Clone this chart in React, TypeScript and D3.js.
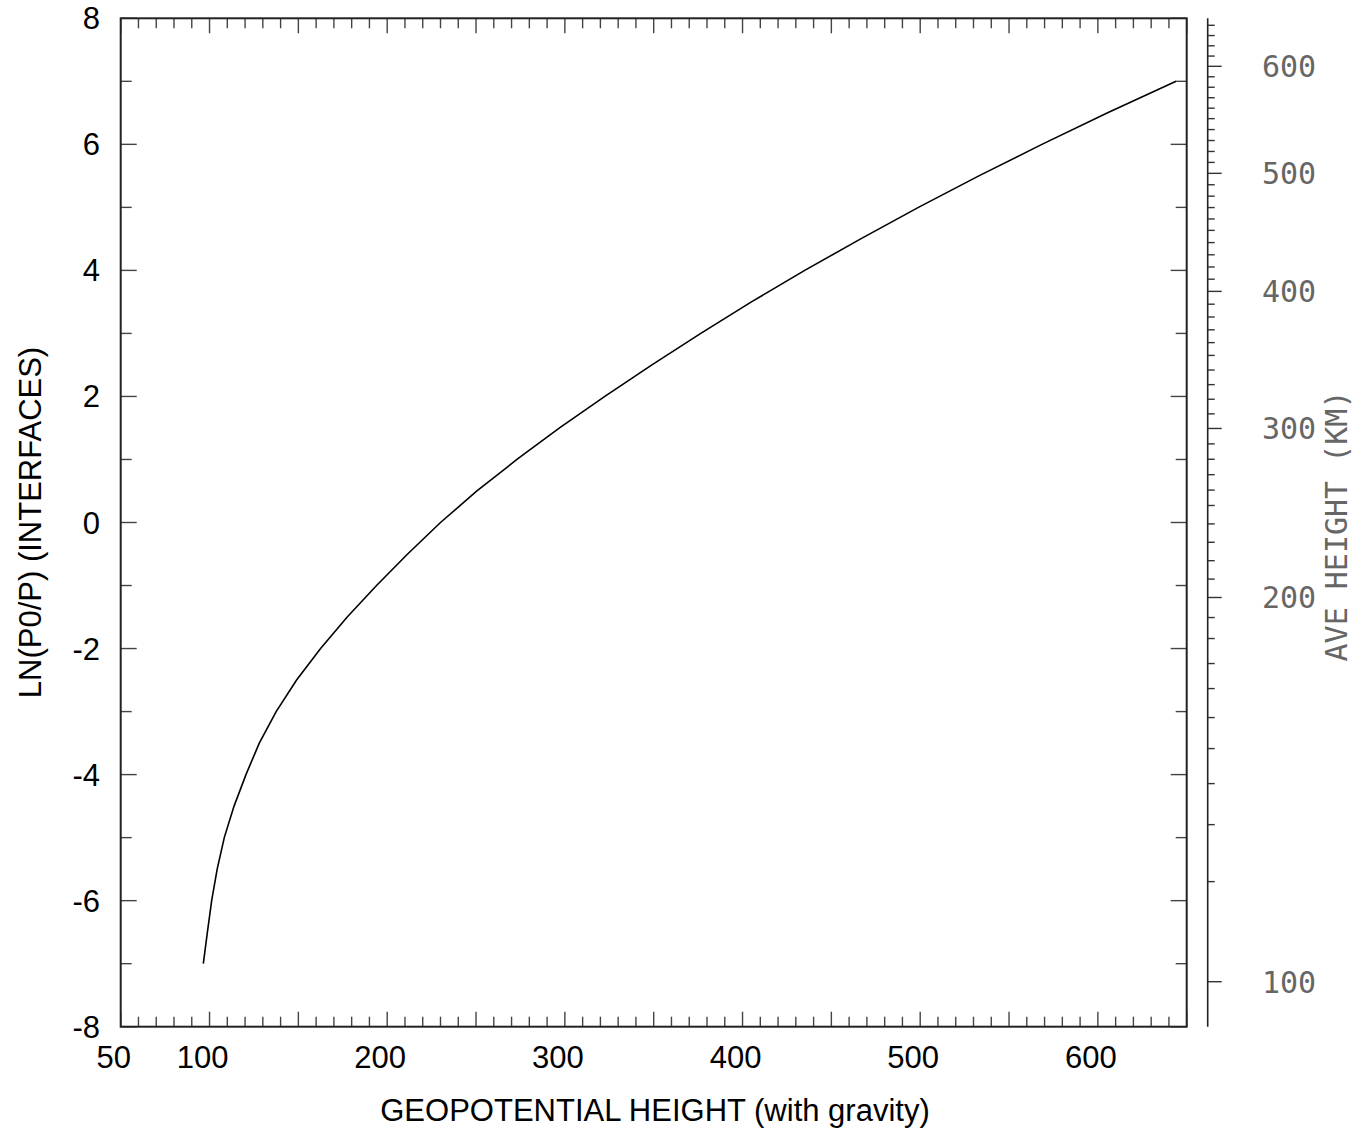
import React from "react";
import * as d3 from "d3";

// ---- data ----
// ln(p0/p) interface levels
const lnLevels = [-7, -6.5, -6, -5.5, -5, -4.5, -4, -3.5, -3, -2.5, -2, -1.5, -1, -0.5, 0, 0.5, 1, 1.5, 2, 2.5, 3, 3.5, 4, 4.5, 5, 5.5, 6, 6.5, 7];
// geopotential height (km) at each interface
const geoHeights = [96.5, 98.8, 101.2, 104.3, 108.3, 113.8, 120.5, 128, 137.5, 149, 162.5, 177.5, 194, 211.5, 230, 250.5, 273, 297, 322.5, 349, 376.5, 405, 435, 466.5, 499, 533, 568.5, 605.5, 644];

// bottom axis
const xLabelValues = [50, 100, 200, 300, 400, 500, 600];
// left axis
const yLabelValues = [-8, -6, -4, -2, 0, 2, 4, 6, 8];
// right axis: average height (km) -> ln(p0/p) anchors
const aveKmAnchors = [100, 110, 120, 130, 140, 150, 160, 170, 180, 190, 200, 250, 300, 350, 400, 450, 500, 550, 600, 640];
const aveLnAnchors = [-7.286, -5.698, -4.794, -4.143, -3.587, -3.095, -2.635, -2.238, -1.841, -1.508, -1.19, 0.27, 1.492, 2.651, 3.667, 4.635, 5.54, 6.408, 7.238, 7.889];
const aveLabelValues = [100, 200, 300, 400, 500, 600];

const xTitle = "GEOPOTENTIAL HEIGHT (with gravity)";
const yTitle = "LN(P0/P) (INTERFACES)";
const rightTitle = "AVE HEIGHT (KM)";

export default function App() {
  const W = 1365, H = 1130;
  const left = 120.7, right = 1186.7, top = 18.3, bottom = 1026.7;
  const x = d3.scaleLinear().domain([50, 650]).range([left, right]);
  const y = d3.scaleLinear().domain([-8, 8]).range([bottom, top]);
  const aveToLn = d3.scaleLinear().domain(aveKmAnchors).range(aveLnAnchors);

  const pts = lnLevels.map((l, i) => [geoHeights[i], l] as [number, number]);
  const line = d3.line<[number, number]>().x(d => x(d[0])).y(d => y(d[1])).curve(d3.curveLinear);

  const xTicks = d3.range(50, 651, 10);
  const yTicks = d3.range(-8, 8.01, 1);
  const aveTicks = d3.range(100, 641, 10);
  const axisX = 1207.7;

  const sans = "'Liberation Sans', Arial, Helvetica, sans-serif";
  const mono = "'DejaVu Sans Mono', 'Liberation Mono', monospace";
  const fs = 31;

  return (
    <svg width={W} height={H} style={{ position: "absolute", left: 0, top: 0, background: "#fff" }} viewBox={`0 0 ${W} ${H}`}>
      <rect x={0} y={0} width={W} height={H} fill="#fff" />
      {/* bottom & top ticks */}
      {xTicks.map(v => {
        const major = Math.abs(v % 50) < 1e-6;
        const len = major ? 15 : 10;
        return (
          <g key={"xt" + v} stroke="#444" strokeWidth={1.4}>
            <line x1={x(v)} x2={x(v)} y1={bottom} y2={bottom - len} />
            <line x1={x(v)} x2={x(v)} y1={top} y2={top + len} />
          </g>
        );
      })}
      {/* left & right ticks */}
      {yTicks.map(v => {
        const major = Math.abs(v % 2) < 1e-6;
        const len = major ? 16 : 11;
        return (
          <g key={"yt" + v} stroke="#444" strokeWidth={1.4}>
            <line x1={left} x2={left + len} y1={y(v)} y2={y(v)} />
            <line x1={right} x2={right - len} y1={y(v)} y2={y(v)} />
          </g>
        );
      })}
      {/* frame */}
      <rect x={left} y={top} width={right - left} height={bottom - top} fill="none" stroke="#222" strokeWidth={2} />

      {/* curve */}
      <path d={line(pts) || ""} fill="none" stroke="#000" strokeWidth={1.6} />

      {/* bottom labels */}
      {xLabelValues.map(v => (
        <text key={"xl" + v} x={x(v) - 7} y={1068} textAnchor="middle" fontFamily={sans} fontSize={fs} fill="#000">{v}</text>
      ))}
      <text x={655} y={1121} textAnchor="middle" fontFamily={sans} fontSize={fs} fill="#000">{xTitle}</text>

      {/* left labels */}
      {yLabelValues.map(v => (
        <text key={"yl" + v} x={100} y={y(v) + 11} textAnchor="end" fontFamily={sans} fontSize={fs} fill="#000">{v}</text>
      ))}
      <text transform={`translate(41, ${y(0)}) rotate(-90)`} textAnchor="middle" fontFamily={sans} fontSize={fs} fill="#000">{yTitle}</text>

      {/* right axis */}
      <line x1={axisX} x2={axisX} y1={top} y2={bottom} stroke="#222" strokeWidth={1.6} />
      {aveTicks.map(v => {
        const major = v % 100 === 0;
        const yy = y(aveToLn(v));
        return <line key={"at" + v} x1={axisX} x2={axisX + (major ? 14 : 7)} y1={yy} y2={yy} stroke="#333" strokeWidth={1.4} />;
      })}
      {aveLabelValues.map(v => (
        <text key={"al" + v} x={1262} y={y(aveToLn(v)) + 11} textAnchor="start" fontFamily={mono} fontSize={30} fill="#666">{v}</text>
      ))}
      <text transform={`translate(1347, 526) rotate(-90)`} textAnchor="middle" fontFamily={mono} fontSize={30} fill="#666">{rightTitle}</text>
    </svg>
  );
}
